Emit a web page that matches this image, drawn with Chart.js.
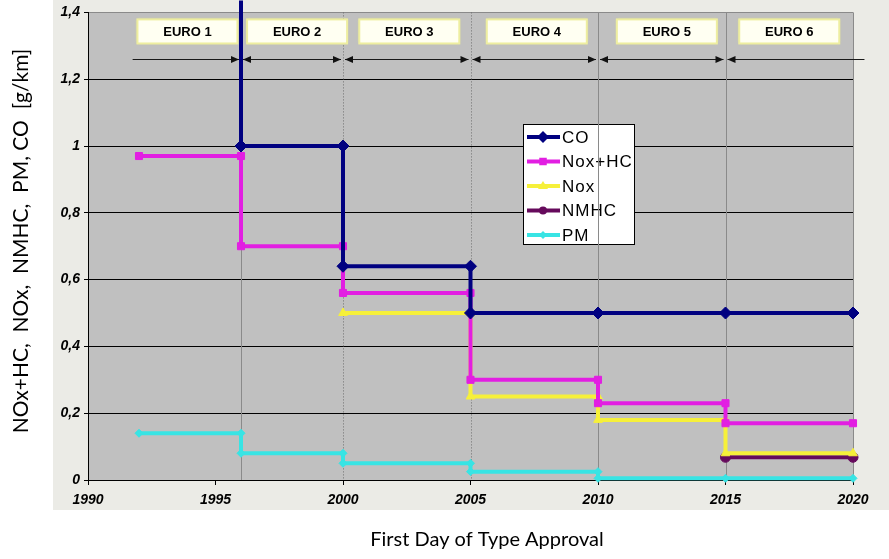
<!DOCTYPE html>
<html>
<head>
<meta charset="utf-8">
<script src="https://cdn.jsdelivr.net/npm/chart.js@4/dist/chart.umd.min.js"></script>
<style>
  html, body { margin: 0; padding: 0; background: #fff; }
  canvas { display: block; }
</style>
</head>
<body>
<canvas id="euroChart" width="889" height="559"></canvas>
<script>
// limits per Euro stage
const coYears = [1996, 1996, 2000, 2000, 2005, 2005, 2010, 2015, 2020];
const coValues = [2.72, 1.0, 1.0, 0.64, 0.64, 0.5, 0.5, 0.5, 0.5];

const noxHcYears = [1992, 1996, 1996, 2000, 2000, 2005, 2005, 2010, 2010, 2015, 2015, 2020];
const noxHcValues = [0.97, 0.97, 0.7, 0.7, 0.56, 0.56, 0.3, 0.3, 0.23, 0.23, 0.17, 0.17];

const noxYears = [2000, 2005, 2005, 2010, 2010, 2015, 2015, 2020];
const noxValues = [0.5, 0.5, 0.25, 0.25, 0.18, 0.18, 0.08, 0.08];

const nmhcYears = [2015, 2020];
const nmhcValues = [0.068, 0.068];

const pmYears = [1992, 1996, 1996, 2000, 2000, 2005, 2005, 2010, 2010, 2015, 2020];
const pmValues = [0.14, 0.14, 0.08, 0.08, 0.05, 0.05, 0.025, 0.025, 0.005, 0.005, 0.005];

const seriesNames = ["CO", "Nox+HC", "Nox", "NMHC", "PM"];

// stage labels and where they sit (years)
const euroLabels = ["EURO 1", "EURO 2", "EURO 3", "EURO 4", "EURO 5", "EURO 6"];
const euroLabelYears = [1993.9, 1998.2, 2002.6, 2007.6, 2012.7, 2017.5];

// stage boundaries
const stageYears = [1996, 2000, 2005, 2010, 2015, 2020];
const stageDotted = [false, true, true, false, false, false];

// double arrows under the labels: [from, to, arrow at start, arrow at end]
const arrowSpans = [
  [1991.75, 1996, false, true],
  [1996, 2000, true, true],
  [2000, 2005, true, true],
  [2005, 2010, true, true],
  [2010, 2015, true, true],
  [2015, 2020.45, true, false],
];

const xTitle = "First Day of Type Approval";
const yTitle = "NOx+HC,  NOx,  NMHC,  PM, CO  [g/km]";

function pontos(xs, ys) {
  return xs.map((x, i) => ({ x: x, y: ys[i] }));
}

const cores = ["#000080", "#e21ee2", "#f6f03a", "#660a5c", "#38e4e4"];
const estilos = ["rectRot", "rect", "triangle", "circle", "rectRot"];
const raios = [6, 5, 5, 5, 4];

const dados = {
  datasets: [
    { label: seriesNames[0], data: pontos(coYears, coValues), clip: { left: 8, top: 12, right: 8, bottom: 8 } },
    { label: seriesNames[1], data: pontos(noxHcYears, noxHcValues) },
    { label: seriesNames[2], data: pontos(noxYears, noxValues) },
    { label: seriesNames[3], data: pontos(nmhcYears, nmhcValues) },
    { label: seriesNames[4], data: pontos(pmYears, pmValues) },
  ],
};

dados.datasets.forEach((ds, i) => {
  ds.borderColor = cores[i];
  ds.backgroundColor = cores[i];
  ds.pointBackgroundColor = cores[i];
  ds.pointBorderColor = cores[i];
  ds.borderWidth = 4;
  ds.pointStyle = estilos[i];
  ds.pointRadius = raios[i];
  ds.pointBorderWidth = 1;
  ds.tension = 0;
  ds.fill = false;
  if (!ds.clip) ds.clip = 8; // markers at 2020 and on the x axis are not cut in half
});

function marcador(ctx, estilo, x, y, r, cor) {
  ctx.save();
  ctx.fillStyle = cor;
  ctx.beginPath();
  if (estilo === "rectRot") {
    ctx.moveTo(x, y - r); ctx.lineTo(x + r, y); ctx.lineTo(x, y + r); ctx.lineTo(x - r, y);
  } else if (estilo === "rect") {
    ctx.rect(x - r * 0.75, y - r * 0.75, r * 1.5, r * 1.5);
  } else if (estilo === "triangle") {
    ctx.moveTo(x, y - r); ctx.lineTo(x + r, y + r * 0.6); ctx.lineTo(x - r, y + r * 0.6);
  } else {
    ctx.arc(x, y, r * 0.8, 0, Math.PI * 2);
  }
  ctx.closePath();
  ctx.fill();
  ctx.restore();
}

function seta(ctx, x, y, dir) {
  ctx.beginPath();
  ctx.moveTo(x, y);
  ctx.lineTo(x - dir * 8, y - 3.5);
  ctx.lineTo(x - dir * 8, y + 3.5);
  ctx.closePath();
  ctx.fill();
}

const enfeites = {
  id: "enfeites",
  beforeDraw(chart) {
    const ctx = chart.ctx;
    const a = chart.chartArea;
    ctx.save();
    ctx.fillStyle = "#ffffff";
    ctx.fillRect(0, 0, chart.width, chart.height);
    ctx.fillStyle = "#ebebe6";
    ctx.fillRect(53, 0, chart.width - 53, 510);
    ctx.fillStyle = "#c0c0c0";
    ctx.fillRect(a.left, a.top, a.right - a.left, a.bottom - a.top);
    ctx.restore();
  },
  beforeDatasetsDraw(chart) {
    const ctx = chart.ctx;
    const a = chart.chartArea;
    const sx = chart.scales.x;
    const sy = chart.scales.y;
    ctx.save();

    // legend box (under the stage lines, like the original)
    ctx.fillStyle = "#ffffff";
    ctx.fillRect(523, 124, 112, 121);
    ctx.strokeStyle = "#000000";
    ctx.lineWidth = 1;
    ctx.strokeRect(523.5, 124.5, 111, 120);
    for (let i = 0; i < seriesNames.length; i++) {
      const ly = 137 + i * 24.5;
      ctx.strokeStyle = cores[i];
      ctx.lineWidth = 4;
      ctx.beginPath();
      ctx.moveTo(527, ly);
      ctx.lineTo(560, ly);
      ctx.stroke();
      marcador(ctx, estilos[i], 543, ly, raios[i], cores[i]);
      ctx.fillStyle = "#000000";
      ctx.font = '17px "Liberation Sans", Arial, sans-serif';
      ctx.letterSpacing = "1px";
      ctx.textBaseline = "middle";
      ctx.textAlign = "left";
      ctx.fillText(seriesNames[i], 562, ly + 1);
      ctx.letterSpacing = "0px";
    }

    // stage boundaries
    stageYears.forEach((ano, i) => {
      const x = Math.round(sx.getPixelForValue(ano)) + 0.5;
      ctx.strokeStyle = stageDotted[i] ? "#6e6e6e" : "#8a8a8a";
      ctx.lineWidth = 1;
      ctx.setLineDash(stageDotted[i] ? [1, 2] : []);
      ctx.beginPath();
      ctx.moveTo(x, a.top);
      ctx.lineTo(x, a.bottom);
      ctx.stroke();
    });
    ctx.setLineDash([]);

    // stage labels
    euroLabels.forEach((txt, i) => {
      const cx = sx.getPixelForValue(euroLabelYears[i]);
      const top = sy.getPixelForValue(1.379);
      const bot = sy.getPixelForValue(1.307);
      ctx.shadowColor = "rgba(235,235,120,0.9)";
      ctx.shadowBlur = 3;
      ctx.fillStyle = "#fffff2";
      ctx.fillRect(cx - 50, top, 100, bot - top);
      ctx.shadowBlur = 0;
      ctx.strokeStyle = "#eeeea0";
      ctx.lineWidth = 2;
      ctx.strokeRect(cx - 50, top, 100, bot - top);
      ctx.fillStyle = "#000000";
      ctx.font = 'bold 13px "Liberation Sans", Arial, sans-serif';
      ctx.textAlign = "center";
      ctx.textBaseline = "middle";
      ctx.fillText(txt, cx, (top + bot) / 2 + 1);
    });

    // arrows
    const ay = Math.round(sy.getPixelForValue(1.26)) + 0.5;
    ctx.strokeStyle = "#1a1a1a";
    ctx.fillStyle = "#111111";
    ctx.lineWidth = 1;
    arrowSpans.forEach(s => {
      const x1 = sx.getPixelForValue(s[0]) + (s[2] ? 2 : 0);
      const x2 = sx.getPixelForValue(s[1]) - (s[3] ? 2 : 0);
      ctx.beginPath();
      ctx.moveTo(x1, ay);
      ctx.lineTo(x2, ay);
      ctx.stroke();
      if (s[2]) seta(ctx, x1, ay, -1);
      if (s[3]) seta(ctx, x2, ay, 1);
    });

    ctx.restore();
  },
  afterDraw(chart) {
    const ctx = chart.ctx;
    ctx.save();
    ctx.fillStyle = "#000000";
    ctx.font = '20px Lato, "Open Sans", sans-serif';
    ctx.textAlign = "center";
    ctx.textBaseline = "middle";
    ctx.fillText(xTitle, 487, 540);
    ctx.translate(21, 241);
    ctx.rotate(-Math.PI / 2);
    ctx.font = '21px Lato, "Open Sans", sans-serif';
    ctx.fillText(yTitle, 0, 0);
    ctx.restore();
  },
};

const fonteTicks = { family: '"Liberation Sans", Arial, sans-serif', size: 14, weight: "bold", style: "italic" };

const config = {
  type: "line",
  data: dados,
  options: {
    responsive: false,
    animation: false,
    devicePixelRatio: 1,
    layout: { padding: { left: 0, top: 11, right: 36, bottom: 0 } },
    plugins: {
      legend: { display: false },
      tooltip: { enabled: false },
    },
    scales: {
      x: {
        type: "linear",
        min: 1990,
        max: 2020,
        afterFit: (s) => { s.height = 79; },
        ticks: { stepSize: 5, color: "#000", font: fonteTicks, padding: 7, callback: (v) => String(v) },
        grid: { drawOnChartArea: false, drawTicks: true, tickLength: 5, color: "#000" },
        border: { display: true, color: "#000", width: 1 },
      },
      y: {
        min: 0,
        max: 1.4,
        afterFit: (s) => { s.width = 88; },
        ticks: {
          stepSize: 0.2,
          color: "#000",
          font: fonteTicks,
          padding: 4,
          callback: (v) => String(Number(v.toFixed(1))).replace(".", ","),
        },
        grid: {
          color: (c) => (c.tick && c.tick.value >= 1.39 ? "#8a8a8a" : "#000"),
          tickColor: "#000",
          tickLength: 4,
          lineWidth: 1,
        },
        border: { display: true, color: "#000", width: 1 },
      },
    },
  },
  plugins: [enfeites],
};

new Chart(document.getElementById("euroChart"), config);
</script>
</body>
</html>
